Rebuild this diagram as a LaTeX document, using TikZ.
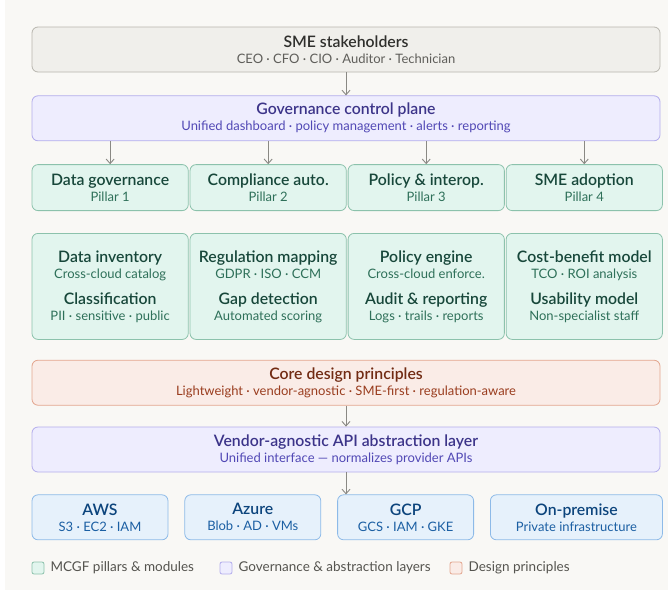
\documentclass[tikz,border=0pt]{standalone}
\usepackage{fontspec}
\setmainfont{Lato}
\IfFontExistsTF{Lato Semibold}{\newfontfamily\medfont{Lato Semibold}}{%
\IfFontExistsTF{Lato Medium}{\newfontfamily\medfont{Lato Medium}[FakeBold=1.5]}{%
\newfontfamily\medfont{Lato}[FakeBold=2.5]}}
\usepackage{tikz}
\usetikzlibrary{positioning, arrows.meta}
\definecolor{pagebg}{HTML}{F9F8F5}
\definecolor{arrowgray}{HTML}{8A8984}
\definecolor{legendtext}{HTML}{55544F}
\definecolor{greyfill}{HTML}{F0EFEB}
\definecolor{greyline}{HTML}{B8B6AE}
\definecolor{greytitle}{HTML}{2F2F2C}
\definecolor{greysub}{HTML}{5F5E5A}
\definecolor{purplefill}{HTML}{EEEDFE}
\definecolor{purpleline}{HTML}{B3ADEC}
\definecolor{purpletitle}{HTML}{3C3489}
\definecolor{purplesub}{HTML}{5148B5}
\definecolor{greenfill}{HTML}{E2F5EE}
\definecolor{greenline}{HTML}{8CC2AC}
\definecolor{greentitle}{HTML}{17473A}
\definecolor{greensub}{HTML}{2E7059}
\definecolor{coralfill}{HTML}{FAECE7}
\definecolor{coralline}{HTML}{E3A68F}
\definecolor{coraltitle}{HTML}{712B13}
\definecolor{coralsub}{HTML}{9A3D1F}
\definecolor{bluefill}{HTML}{E6F1FB}
\definecolor{blueline}{HTML}{8DBAE8}
\definecolor{bluetitle}{HTML}{0C447C}
\definecolor{bluesub}{HTML}{1B5FA3}
\newcommand{\boxtitle}[1]{{\medfont\fontsize{15.8}{16}\selectfont #1}}
\newcommand{\subtxt}[1]{{\color{subcol}#1}}

\begin{document}
\begin{tikzpicture}[x=1pt, y=1pt, font=\fontsize{13}{16}\selectfont,
layer/.style={rectangle, rounded corners=6pt, draw=#1line, fill=#1fill,
text=#1title, line width=0.8pt, align=center, inner sep=0pt,
execute at begin node={\colorlet{subcol}{#1sub}}},
wide/.style={minimum width=628pt, minimum height=45pt},
pillar/.style={minimum width=156.25pt, minimum height=46pt},
module/.style={minimum width=156.25pt, minimum height=106pt},
cloud/.style={minimum width=136pt, minimum height=45pt},
arrow/.style={-{Straight Barb[length=4.5pt,width=8pt]}, line width=0.9pt, draw=arrowgray},
key/.style={rectangle, rounded corners=2pt, draw=#1line, fill=#1fill,
line width=0.8pt, minimum size=12pt, inner sep=0pt},
keytext/.style={text=legendtext, font=\fontsize{13.5}{15}\selectfont, inner sep=0pt}
]
\useasboundingbox (0,0) rectangle (668,-592);
\fill[white] (0,0) rectangle (668,-592);
\fill[pagebg] (5,0) rectangle (668,-590);

% Stakeholders
\node[layer=grey, wide] (stake) at (346,-49.5)
{\boxtitle{SME stakeholders}\\\subtxt{CEO · CFO · CIO · Auditor · Technician}};

% Control plane
\node[layer=purple, wide, below=23pt of stake] (gov)
{\boxtitle{Governance control plane}\\\subtxt{Unified dashboard · policy management · alerts · reporting}};

% Pillars
\node[layer=green, pillar, below right=23pt and 0pt of gov.south west] (pill1)
{\boxtitle{Data governance}\\\subtxt{Pillar 1}};
\node[layer=green, pillar, right=1pt of pill1] (pill2)
{\boxtitle{Compliance auto.}\\\subtxt{Pillar 2}};
\node[layer=green, pillar, right=1pt of pill2] (pill3)
{\boxtitle{Policy \& interop.}\\\subtxt{Pillar 3}};
\node[layer=green, pillar, right=1pt of pill3] (pill4)
{\boxtitle{SME adoption}\\\subtxt{Pillar 4}};

% Modules
\node[layer=green, module, below=22pt of pill1] (mod1)
{\boxtitle{Data inventory}\\\subtxt{Cross-cloud catalog}\\[10pt]
\boxtitle{Classification}\\\subtxt{PII · sensitive · public}};
\node[layer=green, module, below=22pt of pill2] (mod2)
{\boxtitle{Regulation mapping}\\\subtxt{GDPR · ISO · CCM}\\[10pt]
\boxtitle{Gap detection}\\\subtxt{Automated scoring}};
\node[layer=green, module, below=22pt of pill3] (mod3)
{\boxtitle{Policy engine}\\\subtxt{Cross-cloud enforce.}\\[10pt]
\boxtitle{Audit \& reporting}\\\subtxt{Logs · trails · reports}};
\node[layer=green, module, below=22pt of pill4] (mod4)
{\boxtitle{Cost-benefit model}\\\subtxt{TCO · ROI analysis}\\[10pt]
\boxtitle{Usability model}\\\subtxt{Non-specialist staff}};

% Principles
\node[layer=coral, wide, below right=20pt and 0pt of mod1.south west] (core)
{\boxtitle{Core design principles}\\\subtxt{Lightweight · vendor-agnostic · SME-first · regulation-aware}};

% Abstraction layer
\node[layer=purple, wide, below=21pt of core] (vendor)
{\boxtitle{Vendor-agnostic API abstraction layer}\\\subtxt{Unified interface — normalizes provider APIs}};

% Providers
\node[layer=blue, cloud, below right=22pt and 0pt of vendor.south west] (aws)
{\boxtitle{AWS}\\\subtxt{S3 · EC2 · IAM}};
\node[layer=blue, cloud, right=16pt of aws] (azure)
{\boxtitle{Azure}\\\subtxt{Blob · AD · VMs}};
\node[layer=blue, cloud, right=16pt of azure] (gcp)
{\boxtitle{GCP}\\\subtxt{GCS · IAM · GKE}};
\node[layer=blue, cloud, minimum width=172pt, right=16pt of gcp] (onprem)
{\boxtitle{On-premise}\\\subtxt{Private infrastructure}};

% Legend
\node[key=green] (key1) at (38,-568) {};
\node[keytext, right=6pt of key1] (keytxt1) {MCGF pillars \& modules};
\node[key=purple] (key2) at (226,-568) {};
\node[keytext, right=6pt of key2] (keytxt2) {Governance \& abstraction layers};
\node[key=coral] (key3) at (456,-568) {};
\node[keytext, right=6pt of key3] (keytxt3) {Design principles};

% Arrows
\draw[arrow] (stake) -- (gov);
\foreach \p in {pill1,pill2,pill3,pill4}
\draw[arrow] (gov.south -| \p) -- (\p);
\draw[arrow] (core) -- (vendor);
\draw[arrow] (vendor) -- (vendor.south |- gcp.north);

\end{tikzpicture}
\end{document}
